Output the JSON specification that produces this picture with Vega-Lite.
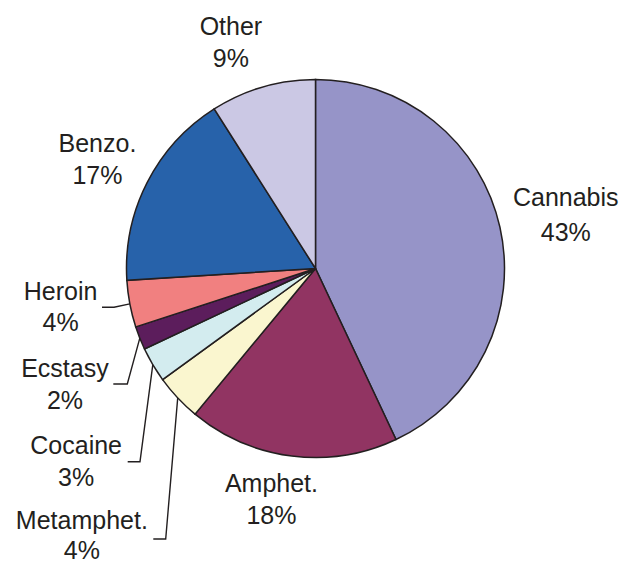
{
  "$schema": "https://vega.github.io/schema/vega-lite/v6.json",
  "width": 611,
  "height": 537,
  "autosize": "none",
  "padding": {"left": 10, "top": 0, "right": 0, "bottom": 26},
  "background": "white",
  "config": {"view": {"stroke": null}},
  "data": {
    "values": [
      {"drug": "Cannabis", "share": 43, "rank": 1},
      {"drug": "Amphet.", "share": 18, "rank": 2},
      {"drug": "Metamphet.", "share": 4, "rank": 3},
      {"drug": "Cocaine", "share": 3, "rank": 4},
      {"drug": "Ecstasy", "share": 2, "rank": 5},
      {"drug": "Heroin", "share": 4, "rank": 6},
      {"drug": "Benzo.", "share": 17, "rank": 7},
      {"drug": "Other", "share": 9, "rank": 8}
    ]
  },
  "transform": [{"calculate": "[datum.drug, datum.share + '%']", "as": "label"}],
  "layer": [
    {
      "mark": {"type": "arc", "radius": 189, "stroke": "#231f20", "strokeWidth": 1.5},
      "encoding": {
        "theta": {"field": "share", "type": "quantitative", "stack": true},
        "order": {"field": "rank", "type": "quantitative"},
        "color": {
          "field": "drug", "type": "nominal", "legend": null,
          "scale": {
            "domain": ["Cannabis", "Amphet.", "Metamphet.", "Cocaine", "Ecstasy", "Heroin", "Benzo.", "Other"],
            "range": ["#9694c8", "#913462", "#faf6cf", "#d3ecef", "#5c1d5c", "#f18080", "#2762aa", "#cbc8e4"]
          }
        }
      }
    },
    {
      "mark": {"type": "point", "filled": false, "stroke": "#231f20", "strokeWidth": 1.4, "size": 142884, "opacity": 1},
      "encoding": {
        "shape": {
          "field": "drug", "type": "nominal", "legend": null,
          "scale": {
            "domain": ["Heroin", "Ecstasy", "Cocaine", "Metamphet.", "Cannabis", "Amphet.", "Benzo.", "Other"],
            "range": [
              "M-0.9825,0.1873L-1.0661,0.2053L-1.1296,0.2053",
              "M-0.9296,0.3683L-0.9958,0.6111L-1.0698,0.6111",
              "M-0.8608,0.5090L-0.9286,1.0222L-0.9937,1.0222",
              "M-0.7290,0.6847L-0.7926,1.4312L-0.8582,1.4312",
              "M0,0", "M0,0", "M0,0", "M0,0"
            ]
          }
        }
      }
    },
    {
      "mark": {"type": "text", "radius": 260, "thetaOffset": -0.055, "font": "Liberation Sans", "fontSize": 25, "lineHeight": 35, "color": "#231f20", "align": "center", "baseline": "middle"},
      "encoding": {
        "theta": {"field": "share", "type": "quantitative", "stack": true},
        "order": {"field": "rank", "type": "quantitative"},
        "text": {"condition": {"test": "datum.drug === 'Cannabis'", "field": "label", "type": "nominal"}, "value": ""}
      }
    },
    {
      "mark": {"type": "text", "radius": 220, "thetaOffset": 0.076, "font": "Liberation Sans", "fontSize": 25, "lineHeight": 32, "color": "#231f20", "align": "center", "baseline": "middle"},
      "encoding": {
        "theta": {"field": "share", "type": "quantitative", "stack": true},
        "order": {"field": "rank", "type": "quantitative"},
        "text": {"condition": {"test": "datum.drug === 'Amphet.'", "field": "label", "type": "nominal"}, "value": ""}
      }
    },
    {
      "mark": {"type": "text", "radius": 344, "thetaOffset": -0.070, "font": "Liberation Sans", "fontSize": 25, "lineHeight": 30, "color": "#231f20", "align": "center", "baseline": "middle"},
      "encoding": {
        "theta": {"field": "share", "type": "quantitative", "stack": true},
        "order": {"field": "rank", "type": "quantitative"},
        "text": {"condition": {"test": "datum.drug === 'Metamphet.'", "field": "label", "type": "nominal"}, "value": ""}
      }
    },
    {
      "mark": {"type": "text", "radius": 298, "thetaOffset": -0.104, "font": "Liberation Sans", "fontSize": 25, "lineHeight": 32, "color": "#231f20", "align": "center", "baseline": "middle"},
      "encoding": {
        "theta": {"field": "share", "type": "quantitative", "stack": true},
        "order": {"field": "rank", "type": "quantitative"},
        "text": {"condition": {"test": "datum.drug === 'Cocaine'", "field": "label", "type": "nominal"}, "value": ""}
      }
    },
    {
      "mark": {"type": "text", "radius": 270, "thetaOffset": -0.005, "font": "Liberation Sans", "fontSize": 25, "lineHeight": 32, "color": "#231f20", "align": "center", "baseline": "middle"},
      "encoding": {
        "theta": {"field": "share", "type": "quantitative", "stack": true},
        "order": {"field": "rank", "type": "quantitative"},
        "text": {"condition": {"test": "datum.drug === 'Ecstasy'", "field": "label", "type": "nominal"}, "value": ""}
      }
    },
    {
      "mark": {"type": "text", "radius": 256, "thetaOffset": 0.097, "font": "Liberation Sans", "fontSize": 25, "lineHeight": 31, "color": "#231f20", "align": "center", "baseline": "middle"},
      "encoding": {
        "theta": {"field": "share", "type": "quantitative", "stack": true},
        "order": {"field": "rank", "type": "quantitative"},
        "text": {"condition": {"test": "datum.drug === 'Heroin'", "field": "label", "type": "nominal"}, "value": ""}
      }
    },
    {
      "mark": {"type": "text", "radius": 251, "thetaOffset": 0.047, "font": "Liberation Sans", "fontSize": 25, "lineHeight": 32, "color": "#231f20", "align": "center", "baseline": "middle"},
      "encoding": {
        "theta": {"field": "share", "type": "quantitative", "stack": true},
        "order": {"field": "rank", "type": "quantitative"},
        "text": {"condition": {"test": "datum.drug === 'Benzo.'", "field": "label", "type": "nominal"}, "value": ""}
      }
    },
    {
      "mark": {"type": "text", "radius": 256, "thetaOffset": -0.054, "font": "Liberation Sans", "fontSize": 25, "lineHeight": 32, "color": "#231f20", "align": "center", "baseline": "middle"},
      "encoding": {
        "theta": {"field": "share", "type": "quantitative", "stack": true},
        "order": {"field": "rank", "type": "quantitative"},
        "text": {"condition": {"test": "datum.drug === 'Other'", "field": "label", "type": "nominal"}, "value": ""}
      }
    }
  ]
}
